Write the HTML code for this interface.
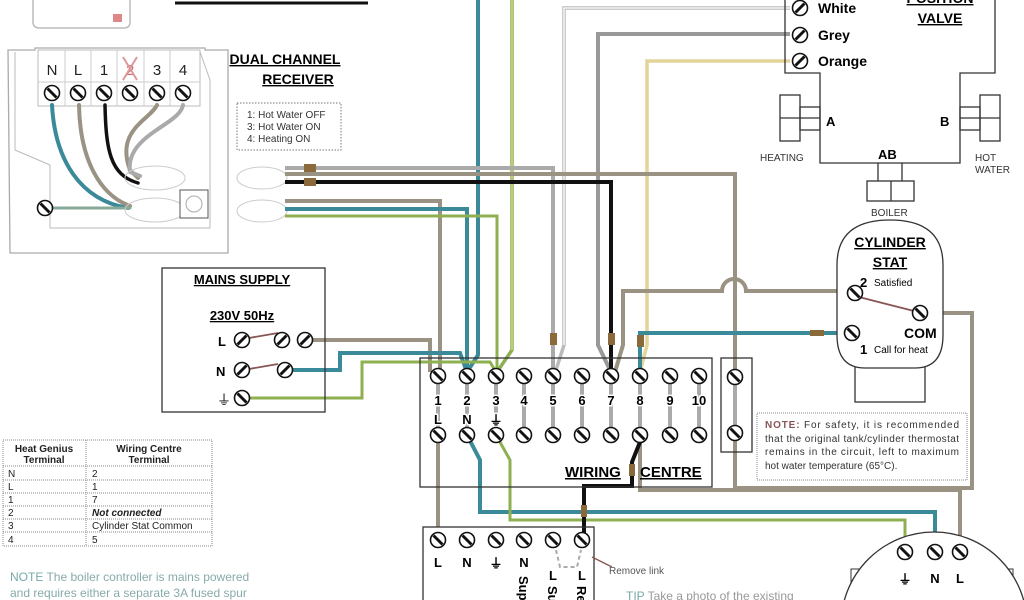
<!DOCTYPE html>
<html><head><meta charset="utf-8"><style>
html,body{margin:0;padding:0;background:#fff;width:1024px;height:600px;overflow:hidden}
svg{display:block}
text{font-family:"Liberation Sans",sans-serif}
.b{font-weight:bold}
</style></head><body>
<svg width="1024" height="600" viewBox="0 0 1024 600" xmlns="http://www.w3.org/2000/svg">
<defs>
<g id="s"><circle r="7.5" fill="#fff" stroke="#111" stroke-width="1.6"/><line x1="-4.5" y1="-4.5" x2="4.5" y2="4.5" stroke="#111" stroke-width="3"/></g>
<g id="r"><circle r="7.5" fill="#fff" stroke="#111" stroke-width="1.6"/><line x1="-4.5" y1="4.5" x2="4.5" y2="-4.5" stroke="#111" stroke-width="3"/></g>
</defs>
<path d="M33 0 V22 Q33 28 40 28 H124 Q130 28 130 22 V0" fill="#fff" stroke="#bbb" stroke-width="1.5"/>
<rect x="113" y="14" width="9" height="8" fill="#d88"/>
<line x1="175" y1="3" x2="368" y2="3" stroke="#111" stroke-width="3"/>

<path d="M8 50 H35 V48 H205 V50 H228 V253 H10 Z" fill="#fff" stroke="#aaa" stroke-width="1.3"/>
<path d="M15 52 V150 L50 165 V228 H210 V80 L200 52" fill="none" stroke="#bbb" stroke-width="1"/>
<rect x="38" y="50" width="162" height="56" fill="#fff" stroke="#bbb"/>
<g stroke="#ccc"><line x1="65" y1="50" x2="65" y2="106"/><line x1="91" y1="50" x2="91" y2="106"/><line x1="117" y1="50" x2="117" y2="106"/><line x1="144" y1="50" x2="144" y2="106"/><line x1="170" y1="50" x2="170" y2="106"/><line x1="38" y1="82" x2="200" y2="82"/></g>
<g font-size="15" fill="#222" text-anchor="middle"><text x="52" y="75">N</text><text x="78" y="75">L</text><text x="104" y="75">1</text><text x="130" y="75" fill="#c66">2</text><text x="157" y="75">3</text><text x="183" y="75">4</text></g>
<path d="M123 57 L137 80 M137 57 L123 80" stroke="#d99" stroke-width="2"/>
<g><use href="#s" x="52" y="93"/><use href="#s" x="78" y="93"/><use href="#s" x="104" y="93"/><use href="#s" x="130" y="93"/><use href="#s" x="157" y="93"/><use href="#s" x="183" y="93"/></g>
<g fill="none" stroke-linecap="round">
<path d="M52 105 C55 160 80 200 128 208" stroke="#3a8a9a" stroke-width="4"/>
<path d="M79 105 C80 160 100 195 130 206" stroke="#9a9282" stroke-width="4"/>
<path d="M105 105 C106 150 110 175 138 183" stroke="#111" stroke-width="3.5"/>
<path d="M157 105 C150 120 115 130 130 170 L138 178" stroke="#9a9282" stroke-width="4"/>
<path d="M183 105 C180 125 125 135 130 172 L140 176" stroke="#aaa" stroke-width="4"/>
<path d="M52 208 H130" stroke="#8a9" stroke-width="3"/>
</g>
<ellipse cx="155" cy="178" rx="30" ry="12" fill="none" stroke="#ccc"/>
<ellipse cx="155" cy="210" rx="30" ry="12" fill="none" stroke="#ccc"/>
<use href="#s" x="45" y="208"/>
<rect x="180" y="190" width="28" height="28" fill="#fff" stroke="#555"/><circle cx="194" cy="204" r="8" fill="none" stroke="#aaa"/>
<text x="285" y="64" font-size="14" class="b" text-anchor="middle" text-decoration="underline">DUAL CHANNEL</text>
<text x="298" y="84" font-size="14" class="b" text-anchor="middle" text-decoration="underline">RECEIVER</text>
<rect x="237" y="103" width="104" height="47" fill="none" stroke="#777" stroke-dasharray="1.5,1.5"/>
<g font-size="10" fill="#333"><text x="247" y="118">1: Hot Water OFF</text><text x="247" y="130">3: Hot Water ON</text><text x="247" y="142">4: Heating ON</text></g>
<ellipse cx="262" cy="178" rx="25" ry="11" fill="none" stroke="#ccc"/>
<ellipse cx="262" cy="211" rx="25" ry="11" fill="none" stroke="#ccc"/>

<g fill="none" stroke-linejoin="miter">
<path d="M478 0 V355 L467 372" stroke="#3a8a9a" stroke-width="4"/>
<path d="M512 0 V350 L497 372" stroke="#8fb050" stroke-width="3.5"/>
<path d="M512 0 V350" stroke="#e8e8a0" stroke-width="1"/>
<path d="M790 8 H564 V345 L556 370" stroke="#bbb" stroke-width="3.5"/>
<path d="M790 8 H564 V345" stroke="#fff" stroke-width="1.3"/>
<path d="M790 34 H598 V345 L611 372" stroke="#999" stroke-width="4"/>
<path d="M790 61 H647 V345 L640 372" stroke="#e2d49a" stroke-width="3.5"/>
<path d="M285 168 H553 V372" stroke="#aaa" stroke-width="4"/>
<path d="M285 174 H735 V372" stroke="#9a9282" stroke-width="4"/>
<path d="M285 182 H611 V372" stroke="#111" stroke-width="4"/>
<path d="M285 201 H440 V372" stroke="#9a9282" stroke-width="4"/>
<path d="M285 209 H467 V372" stroke="#3a8a9a" stroke-width="4"/>
<path d="M285 216 H497 V372" stroke="#8fb050" stroke-width="3"/>
<path d="M615 372 L623 345 V291 H722 A12 12 0 0 1 746 291 H855" stroke="#9a9282" stroke-width="4"/>
<path d="M640 372 V333 H850" stroke="#3a8a9a" stroke-width="4"/>
<path d="M920 313 H972 V488 H735 V433" stroke="#9a9282" stroke-width="4"/>
<path d="M305 340 H430 V372" stroke="#9a9282" stroke-width="4"/>
<path d="M285 370 H340 V353 H460 L467 372" stroke="#3a8a9a" stroke-width="4"/>
<path d="M242 398 H362 V362 H490 L496 372" stroke="#8fb050" stroke-width="3"/>
<path d="M438 435 V527" stroke="#9a9282" stroke-width="4"/>
<path d="M467 435 L480 460 V512 H935 V545" stroke="#3a8a9a" stroke-width="4"/>
<path d="M496 435 L510 460 V520 H905 V545" stroke="#8fb050" stroke-width="3"/>
<path d="M640 435 V490 H960 V545" stroke="#9a9282" stroke-width="4"/>
<path d="M640 442 L632 462 V486 H584 V540" stroke="#111" stroke-width="4"/>
</g>
<g fill="#8a6a3a"><rect x="304" y="164" width="12" height="8"/><rect x="304" y="178" width="12" height="8"/><rect x="550" y="333" width="7" height="12"/><rect x="608" y="333" width="7" height="12"/><rect x="637" y="335" width="7" height="12"/><rect x="810" y="330" width="14" height="6"/><rect x="629" y="464" width="6" height="12"/><rect x="581" y="505" width="6" height="12"/></g>

<rect x="162" y="268" width="163" height="144" fill="none" stroke="#333" stroke-width="1.3"/>
<text x="242" y="284" font-size="13" class="b" text-anchor="middle" text-decoration="underline">MAINS SUPPLY</text>
<text x="242" y="320" font-size="13" class="b" text-anchor="middle" text-decoration="underline">230V 50Hz</text>
<text x="218" y="346" font-size="13" class="b">L</text><text x="216" y="376" font-size="13" class="b">N</text>
<text x="217" y="405" font-size="14">⏚</text>
<path d="M249 338 L278 333 M249 369 L278 364" stroke="#855" stroke-width="1.8"/>
<use href="#r" x="242" y="340"/><use href="#r" x="282" y="340"/><use href="#r" x="305" y="340"/>
<use href="#r" x="242" y="370"/><use href="#r" x="285" y="370"/><use href="#s" x="242" y="398"/>

<g stroke="#888" stroke-dasharray="1,1" fill="none"><rect x="3" y="440" width="209" height="106"/><line x1="86" y1="440" x2="86" y2="546"/><line x1="3" y1="466" x2="212" y2="466"/><line x1="3" y1="480" x2="212" y2="480"/><line x1="3" y1="493" x2="212" y2="493"/><line x1="3" y1="506" x2="212" y2="506"/><line x1="3" y1="519" x2="212" y2="519"/><line x1="3" y1="532" x2="212" y2="532"/></g>
<g font-size="10" fill="#222"><text x="44" y="452" text-anchor="middle" class="b">Heat Genius</text><text x="44" y="463" text-anchor="middle" class="b">Terminal</text><text x="149" y="452" text-anchor="middle" class="b">Wiring Centre</text><text x="149" y="463" text-anchor="middle" class="b">Terminal</text>
<text x="8" y="477">N</text><text x="92" y="477">2</text><text x="8" y="490">L</text><text x="92" y="490">1</text><text x="8" y="503">1</text><text x="92" y="503">7</text><text x="8" y="516">2</text><text x="92" y="516" font-style="italic" class="b">Not connected</text><text x="8" y="529">3</text><text x="92" y="529">Cylinder Stat Common</text><text x="8" y="543">4</text><text x="92" y="543">5</text></g>
<g font-size="12" fill="#8aa"><text x="10" y="581"><tspan fill="#7aa">NOTE</tspan> The boiler controller is mains powered</text><text x="10" y="597">and requires either a separate 3A fused spur</text></g>

<rect x="420" y="358" width="292" height="129" fill="none" stroke="#333" stroke-width="1.3"/>
<g stroke="#aaa" stroke-width="4"><line x1="438" y1="375" x2="438" y2="435"/><line x1="467" y1="375" x2="467" y2="435"/><line x1="496" y1="375" x2="496" y2="435"/><line x1="524" y1="375" x2="524" y2="435"/><line x1="553" y1="375" x2="553" y2="435"/><line x1="582" y1="375" x2="582" y2="435"/><line x1="611" y1="375" x2="611" y2="435"/><line x1="640" y1="375" x2="640" y2="435"/><line x1="670" y1="375" x2="670" y2="435"/><line x1="699" y1="375" x2="699" y2="435"/></g>
<g font-size="13" class="b" text-anchor="middle">
<text x="438" y="405" stroke="#fff" stroke-width="3" paint-order="stroke">1</text><text x="467" y="405" stroke="#fff" stroke-width="3" paint-order="stroke">2</text><text x="496" y="405" stroke="#fff" stroke-width="3" paint-order="stroke">3</text><text x="524" y="405" stroke="#fff" stroke-width="3" paint-order="stroke">4</text><text x="553" y="405" stroke="#fff" stroke-width="3" paint-order="stroke">5</text><text x="582" y="405" stroke="#fff" stroke-width="3" paint-order="stroke">6</text><text x="611" y="405" stroke="#fff" stroke-width="3" paint-order="stroke">7</text><text x="640" y="405" stroke="#fff" stroke-width="3" paint-order="stroke">8</text><text x="670" y="405" stroke="#fff" stroke-width="3" paint-order="stroke">9</text><text x="699" y="405" stroke="#fff" stroke-width="3" paint-order="stroke">10</text>
<text x="438" y="424" stroke="#fff" stroke-width="3" paint-order="stroke">L</text><text x="467" y="424" stroke="#fff" stroke-width="3" paint-order="stroke">N</text><text x="496" y="425" stroke="#fff" stroke-width="3" paint-order="stroke">⏚</text></g>
<g><use href="#s" x="438" y="376"/><use href="#s" x="467" y="376"/><use href="#s" x="496" y="376"/><use href="#s" x="524" y="376"/><use href="#s" x="553" y="376"/><use href="#s" x="582" y="376"/><use href="#s" x="611" y="376"/><use href="#s" x="640" y="376"/><use href="#s" x="670" y="376"/><use href="#s" x="699" y="376"/>
<use href="#s" x="438" y="435"/><use href="#s" x="467" y="435"/><use href="#s" x="496" y="435"/><use href="#s" x="524" y="435"/><use href="#s" x="553" y="435"/><use href="#s" x="582" y="435"/><use href="#s" x="611" y="435"/><use href="#s" x="640" y="435"/><use href="#s" x="670" y="435"/><use href="#s" x="699" y="435"/></g>
<text x="565" y="477" font-size="15" class="b" text-decoration="underline">WIRING</text><text x="640" y="477" font-size="15" class="b" text-decoration="underline">CENTRE</text>
<rect x="721" y="358" width="31" height="94" fill="none" stroke="#333" stroke-width="1.3"/>
<line x1="735" y1="377" x2="735" y2="433" stroke="#aaa" stroke-width="4"/>
<use href="#s" x="735" y="377"/><use href="#s" x="735" y="433"/>
<rect x="757" y="413" width="210" height="67" fill="none" stroke="#888" stroke-dasharray="1,1"/>
<g font-size="10" fill="#333"><text x="765" y="428" textLength="194" lengthAdjust="spacing"><tspan fill="#855" class="b">NOTE:</tspan> For safety, it is recommended</text><text x="765" y="442" textLength="194" lengthAdjust="spacing">that the original tank/cylinder thermostat</text><text x="765" y="455" textLength="194" lengthAdjust="spacing">remains in the circuit, left to maximum</text><text x="765" y="469">hot water temperature (65°C).</text></g>

<rect x="423" y="527" width="171" height="80" fill="none" stroke="#333" stroke-width="1.3"/>
<g><use href="#s" x="438" y="540"/><use href="#s" x="467" y="540"/><use href="#s" x="496" y="540"/><use href="#s" x="524" y="540"/><use href="#s" x="553" y="540"/><use href="#s" x="582" y="540"/></g>
<path d="M556 550 L560 567 H577 L581 550" fill="none" stroke="#aaa" stroke-width="2" stroke-dasharray="4,3"/>
<g font-size="13" class="b" text-anchor="middle"><text x="438" y="567">L</text><text x="467" y="567">N</text><text x="496" y="568">⏚</text><text x="524" y="567">N</text><text x="553" y="580">L</text><text x="582" y="580">L</text></g>
<text x="519" y="576" font-size="13" class="b" transform="rotate(90 519 576)">Sup</text>
<text x="548" y="586" font-size="13" class="b" transform="rotate(90 548 586)">Su</text>
<text x="577" y="586" font-size="13" class="b" transform="rotate(90 577 586)">Re</text>
<line x1="612" y1="567" x2="592" y2="557" stroke="#855" stroke-width="1.3"/>
<text x="609" y="574" font-size="10" fill="#555">Remove link</text>
<text x="626" y="600" font-size="12" fill="#999"><tspan fill="#7aa">TIP</tspan> Take a photo of the existing</text>

<rect x="851" y="569" width="162" height="40" fill="none" stroke="#333"/>
<circle cx="934" cy="625" r="93" fill="#fff" stroke="#333" stroke-width="1.3"/>
<use href="#s" x="905" y="552"/><use href="#s" x="935" y="552"/><use href="#s" x="960" y="552"/>
<g font-size="13" class="b" text-anchor="middle"><text x="905" y="584">⏚</text><text x="935" y="583">N</text><text x="960" y="583">L</text></g>

<path d="M785 -5 V73 H820 V163 H960 V73 H995 V-5" fill="none" stroke="#333" stroke-width="1.3"/>
<use href="#r" x="800" y="8"/><use href="#r" x="800" y="35"/><use href="#r" x="800" y="61"/>
<g font-size="14" class="b"><text x="818" y="13">White</text><text x="818" y="40">Grey</text><text x="818" y="66">Orange</text></g>
<text x="940" y="3" font-size="14" class="b" text-anchor="middle" text-decoration="underline">POSITION</text>
<text x="940" y="23" font-size="14" class="b" text-anchor="middle" text-decoration="underline">VALVE</text>
<g fill="none" stroke="#333" stroke-width="1.3"><rect x="780" y="95" width="20" height="46"/><line x1="780" y1="118" x2="800" y2="118"/><rect x="800" y="107" width="20" height="23"/><line x1="800" y1="118" x2="820" y2="118"/>
<rect x="980" y="95" width="20" height="46"/><line x1="980" y1="118" x2="1000" y2="118"/><rect x="960" y="107" width="20" height="23"/><line x1="960" y1="118" x2="980" y2="118"/>
<line x1="878" y1="163" x2="878" y2="181"/><line x1="902" y1="163" x2="902" y2="181"/><rect x="867" y="181" width="47" height="20"/><line x1="891" y1="181" x2="891" y2="201"/></g>
<g font-size="13" class="b"><text x="826" y="126">A</text><text x="940" y="126">B</text><text x="878" y="159">AB</text></g>
<g font-size="10" fill="#333"><text x="760" y="161">HEATING</text><text x="975" y="161">HOT</text><text x="975" y="173">WATER</text><text x="871" y="216">BOILER</text></g>

<rect x="855" y="362" width="70" height="40" fill="#fff" stroke="#333" stroke-width="1.3"/>
<path d="M837 265 Q837 220 890 220 Q943 220 943 265 V335 Q943 368 915 368 H865 Q837 368 837 335 Z" fill="#fff" stroke="#333" stroke-width="1.3"/>
<text x="890" y="247" font-size="14" class="b" text-anchor="middle" text-decoration="underline">CYLINDER</text>
<text x="890" y="267" font-size="14" class="b" text-anchor="middle" text-decoration="underline">STAT</text>
<text x="860" y="287" font-size="13" class="b">2</text><text x="874" y="286" font-size="10">Satisfied</text>
<line x1="855" y1="296" x2="918" y2="312" stroke="#855" stroke-width="1.8"/>
<use href="#s" x="855" y="293"/><use href="#s" x="920" y="313"/><use href="#s" x="852" y="333"/>
<text x="904" y="338" font-size="14" class="b">COM</text>
<text x="860" y="354" font-size="13" class="b">1</text><text x="874" y="353" font-size="10">Call for heat</text>
</svg>
</body></html>
